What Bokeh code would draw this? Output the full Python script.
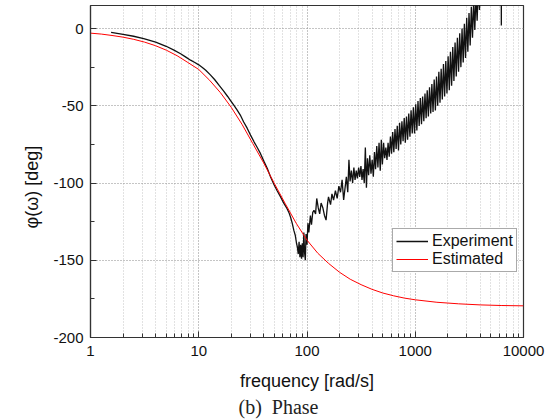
import math
from bokeh.plotting import figure
from bokeh.models import Range1d, FixedTicker, Legend, LegendItem, Title
from bokeh.embed import file_html
from bokeh.resources import INLINE

# ---- data ----
x_ticks = [1, 10, 100, 1000, 10000]
x_tick_labels = ["1", "10", "100", "1000", "10000"]
x_minor_ticks = [m * d for d in [1, 10, 100, 1000] for m in range(2, 10)]
y_ticks = [-200, -150, -100, -50, 0]
y_tick_labels = ["-200", "-150", "-100", "-50", "0"]
y_minor_ticks = [-175, -125, -75, -25]

est_freq = [1, 1.26, 1.58, 2, 2.51, 3.16, 3.98, 5.01, 6.31, 7.94, 10, 12.6, 15.85,
            19.95, 25.1, 31.6, 39.8, 50.1, 63.1, 79.4, 100, 126, 158, 200, 251,
            316, 398, 501, 631, 794, 1000, 1585, 2512, 3981, 6310, 10000]
est_phase = [-3.0, -3.6, -4.5, -5.6, -7.0, -8.8, -11.1, -14.0, -17.6, -22.0, -26.5,
             -33.5, -41.5, -51, -62, -74.5, -87, -100.5, -113.5, -126, -137,
             -145.5, -152, -157.8, -162.3, -165.8, -168.8, -171.2, -173.0, -174.5,
             -175.6, -177.2, -178.2, -178.9, -179.3, -179.5]

exp_freq = [1.55, 2, 2.5, 3.1, 4, 5, 5.9, 6.8, 7.6, 8.4, 9.2, 10.0, 10.8, 11.6, 12.8,
            14, 15.5, 17, 18.5, 19.6, 21, 22.5, 24.2, 26, 28, 30.1, 32.5, 35, 37.2,
            40, 42.9, 46, 49.5, 53, 57, 61, 65.5, 68, 70.4, 73, 75.6, 78, 80, 81.5,
            83, 84.5, 86, 87.5, 89, 90.5, 92, 93.5, 95, 96.5, 98, 100, 102, 104,
            107.5, 110, 113, 116, 120, 123, 127, 131, 135, 140, 145, 150, 155, 158,
            165, 170, 176, 183, 190, 197, 204, 211, 218, 224, 231, 238, 244, 250,
            257, 264, 271, 278, 285, 292, 300, 307, 315, 322, 330, 338, 346, 354,
            362, 371, 380, 390, 400, 410, 420, 430, 441, 452, 463, 475, 486, 497,
            510, 522, 535, 548, 561, 575, 590, 604, 619, 634, 650, 666, 682, 700,
            717, 735, 753, 772, 791, 810, 830, 850, 871, 893, 915, 938, 961, 985,
            1010, 1035, 1060, 1087, 1114, 1142, 1170, 1200, 1230, 1260, 1290, 1322,
            1355, 1390, 1424, 1460, 1496, 1534, 1572, 1611, 1652, 1693, 1735, 1778,
            1823, 1868, 1915, 1963, 2012, 2062, 2114, 2167, 2221, 2276, 2333, 2392,
            2451, 2513, 2575, 2640, 2706, 2773, 2843, 2914, 2987, 3061, 3138, 3216,
            3297, 3379, 3464, 3550, 3639, 3730, 3823, 3920, 4020, 4100, 4300, 5000,
            6200, 6240, 6280, 8000]
exp_phase = [-2.5, -3.8, -5.0, -6.5, -8.8, -11.5, -14.0, -16.3, -18.5, -20.5, -22.0,
             -23.5, -25.2, -27.0, -30.0, -33.0, -37.0, -40.5, -44, -46.5, -49.5,
             -52.5, -56, -60.5, -64.5, -69, -73.5, -77.5, -81, -86, -90.5, -96, -101,
             -105, -109, -113, -116.6, -119, -122, -126, -130.7, -134, -139, -141.5,
             -146, -138, -148, -140, -149, -139, -148, -132, -145, -150, -133, -140,
             -126, -132, -121, -127, -119, -117.7, -120, -110, -116, -120, -113,
             -116, -121, -124, -113, -109, -114, -107, -111, -105, -110, -102, -106,
             -98, -111, -104, -96, -106, -85, -99, -92, -100, -90, -98, -92, -97,
             -90, -96, -89, -98, -91, -100, -77, -103, -84, -95, -82, -94, -85, -96,
             -80, -91, -76, -90, -74, -92, -72, -88, -74, -84, -77, -85, -74, -83,
             -70, -81, -67, -80, -65, -78, -63, -79, -61, -75, -60, -73, -58, -74,
             -57, -72, -55, -70, -53, -68, -51, -68, -49, -66, -47, -63, -45, -62,
             -44, -60, -42, -58, -40, -57, -38, -55, -36, -54, -33, -53, -31, -50,
             -28, -48, -26, -46, -23, -44, -21, -42, -18, -40, -15, -37, -12, -34,
             -9, -31, -6, -28, -3, -25, 0, -22, 3, -19, 7, -15, 10, -11, 14, -6, 18,
             -1, 22, 5, 28, 12, 35, 22, 45, 60, 80, 2, 80, 100]

legend_labels = ["Experiment", "Estimated"]
x_label = "frequency [rad/s]"
y_label = "\u03c6(\u03c9) [deg]"
caption = "(b)\u00a0\u00a0Phase"

FONT = "Liberation Sans"

p = figure(width=553, height=420, x_axis_type="log",
           x_range=Range1d(1, 10000), y_range=Range1d(-200, 14.9),
           output_backend="svg", toolbar_location=None,
           min_border_left=90, min_border_right=30, min_border_top=5,
           min_border_bottom=83)
p.background_fill_color = "white"
p.border_fill_color = "white"
p.outline_line_color = "#333333"
p.outline_line_width = 1.2

r_exp = p.line(exp_freq, exp_phase, line_color="#111111", line_width=1.3)
r_est = p.line(est_freq, est_phase, line_color="#ff0000", line_width=1)

# axes
p.xaxis.ticker = FixedTicker(ticks=x_ticks, minor_ticks=x_minor_ticks)
p.xaxis.major_label_overrides = {t: l for t, l in zip(x_ticks, x_tick_labels)}
p.yaxis.ticker = FixedTicker(ticks=y_ticks, minor_ticks=y_minor_ticks)
p.yaxis.major_label_overrides = {t: l for t, l in zip(y_ticks, y_tick_labels)}
for ax in (p.xaxis, p.yaxis):
    ax.axis_line_color = "#333333"
    ax.axis_line_width = 1.2
    ax.major_tick_in = 6
    ax.major_tick_out = 0
    ax.minor_tick_in = 4
    ax.minor_tick_out = 0
    ax.major_tick_line_color = "#333333"
    ax.minor_tick_line_color = "#333333"
    ax.major_label_text_font = FONT
    ax.major_label_text_font_size = "15px"
    ax.major_label_text_color = "#111111"
p.xaxis.major_label_standoff = 8
p.yaxis.major_label_standoff = 7
p.xaxis.axis_label = x_label
p.xaxis.axis_label_text_font = FONT
p.xaxis.axis_label_text_font_size = "18px"
p.xaxis.axis_label_text_font_style = "normal"
p.xaxis.axis_label_text_color = "#111111"
p.xaxis.axis_label_standoff = 12

# grid
p.xgrid.grid_line_color = "#8a8a8a"
p.xgrid.grid_line_dash = "1 2"
p.xgrid.minor_grid_line_color = "#c4c4c4"
p.xgrid.minor_grid_line_dash = "1 2"
p.ygrid.grid_line_color = "#8a8a8a"
p.ygrid.grid_line_dash = "1 2"

# y label (as a left-side title so it can be offset) and caption
p.add_layout(Title(text=y_label, align="left", offset=109, standoff=18,
                   text_font=FONT, text_font_size="18px",
                   text_font_style="normal", text_color="#111111"), "left")
p.add_layout(Title(text=caption, align="left", offset=148, standoff=0,
                   text_font="Liberation Serif", text_font_size="20px",
                   text_font_style="normal", text_color="#222222"), "below")

legend = Legend(items=[LegendItem(label=legend_labels[0], renderers=[r_exp]),
                       LegendItem(label=legend_labels[1], renderers=[r_est])],
                location=(302, 65))
legend.label_text_font = FONT
legend.label_text_font_size = "16px"
legend.label_text_color = "#111111"
legend.border_line_color = "#555555"
legend.border_line_width = 1
legend.background_fill_alpha = 1
legend.padding = 3
legend.spacing = 0
legend.margin = 0
legend.glyph_width = 32
legend.glyph_height = 18
legend.label_height = 18
legend.label_standoff = 4
p.add_layout(legend, "center")

open("out.html", "w").write(file_html(p, INLINE))
